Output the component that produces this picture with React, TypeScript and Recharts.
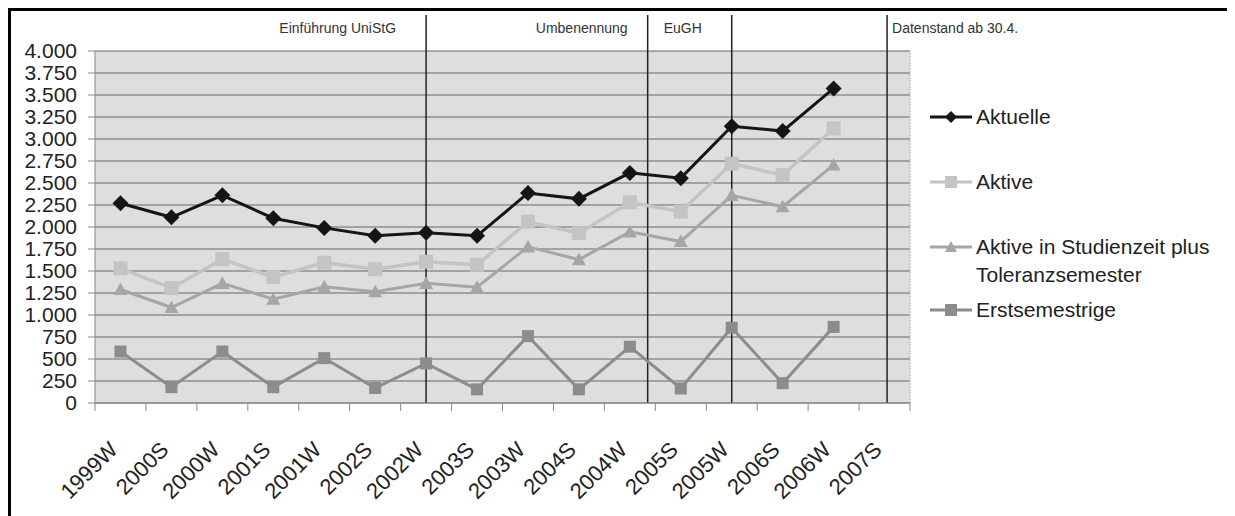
import React from 'react';
import { LineChart, Line, XAxis, YAxis, CartesianGrid, ReferenceLine } from 'recharts';

const semesters = ['1999W', '2000S', '2000W', '2001S', '2001W', '2002S', '2002W', '2003S', '2003W', '2004S', '2004W', '2005S', '2005W', '2006S', '2006W', '2007S'];

const aktuelle = [2270, 2110, 2360, 2100, 1990, 1900, 1935, 1900, 2385, 2320, 2615, 2555, 3145, 3090, 3575, null];
const aktive = [1530, 1305, 1635, 1430, 1595, 1520, 1605, 1570, 2060, 1930, 2280, 2175, 2720, 2590, 3120, null];
const toleranz = [1290, 1085, 1360, 1180, 1320, 1265, 1360, 1315, 1775, 1630, 1945, 1835, 2360, 2230, 2705, null];
const erstsemestrige = [585, 180, 585, 180, 510, 170, 450, 155, 760, 155, 640, 165, 855, 225, 865, null];

const yTicks = [0, 250, 500, 750, 1000, 1250, 1500, 1750, 2000, 2250, 2500, 2750, 3000, 3250, 3500, 3750, 4000];

// where the event lines sit, in category units (0 = left edge of 1999W)
const eventPositions = [6.5, 10.85, 12.5, 15.55];

const FONT = '"Liberation Sans", Arial, sans-serif';

const data = semesters.map((s, i) => ({
  pos: i + 0.5,
  name: s,
  aktuelle: aktuelle[i],
  aktive: aktive[i],
  toleranz: toleranz[i],
  erst: erstsemestrige[i],
}));

const xTicks = semesters.map((_, i) => i).concat(semesters.length);

const fmt = (v: number) => {
  if (v < 1000) return String(v);
  const t = Math.floor(v / 1000);
  const r = String(v % 1000).padStart(3, '0');
  return `${t}.${r}`;
};

type DotProps = { cx?: number; cy?: number; value?: any };

const diamond = (color: string, r: number) => (p: DotProps) => {
  const { cx, cy, value } = p;
  if (cx == null || cy == null || value == null) return <g key={`d${cx}`} />;
  return <path key={`d${cx}`} d={`M${cx},${cy - r}L${cx + r},${cy}L${cx},${cy + r}L${cx - r},${cy}Z`} fill={color} />;
};

const square = (color: string, r: number) => (p: DotProps) => {
  const { cx, cy, value } = p;
  if (cx == null || cy == null || value == null) return <g key={`s${cx}`} />;
  return <rect key={`s${cx}`} x={cx - r} y={cy - r} width={r * 2} height={r * 2} fill={color} />;
};

const triangle = (color: string, r: number) => (p: DotProps) => {
  const { cx, cy, value } = p;
  if (cx == null || cy == null || value == null) return <g key={`t${cx}`} />;
  return <path key={`t${cx}`} d={`M${cx},${cy - r}L${cx + r},${cy + r * 0.8}L${cx - r},${cy + r * 0.8}Z`} fill={color} />;
};

const series = [
  { key: 'aktuelle', name: 'Aktuelle', color: '#151515', width: 3, dot: diamond('#151515', 8), icon: 'diamond' },
  { key: 'aktive', name: 'Aktive', color: '#c4c4c4', width: 3.5, dot: square('#c4c4c4', 7), icon: 'square' },
  { key: 'toleranz', name: 'Aktive in Studienzeit plus Toleranzsemester', color: '#a6a6a6', width: 3, dot: triangle('#a6a6a6', 7), icon: 'triangle' },
  { key: 'erst', name: 'Erstsemestrige', color: '#8c8c8c', width: 3, dot: square('#8c8c8c', 6), icon: 'square' },
];

const XTick = (props: any) => {
  const { x, y, payload } = props;
  const label = semesters[payload.value];
  if (!label) return null;
  return (
    <text
      transform={`translate(${x + 24},${y + 38}) rotate(-45)`}
      textAnchor="end"
      fontSize={22}
      fontFamily={FONT}
      fill="#222"
    >
      {label}
    </text>
  );
};

const eventLine = (labels: { text: string; dx: number; anchor: 'start' | 'end' }[]) => (p: any) => {
  const top = Math.min(p.y1, p.y2);
  const bottom = Math.max(p.y1, p.y2);
  return (
    <g>
      <line x1={p.x1} x2={p.x2} y1={top - 36} y2={bottom} stroke="#222" strokeWidth={1.5} />
      {labels.map((l) => (
        <text key={l.text} x={p.x1 + l.dx} y={top - 18} textAnchor={l.anchor} fontSize={14} fontFamily={FONT} fill="#333">
          {l.text}
        </text>
      ))}
    </g>
  );
};

const LegendIcon: React.FC<{ color: string; icon: string }> = ({ color, icon }) => (
  <svg width={42} height={16} style={{ flex: 'none', marginTop: 6 }}>
    <line x1={0} x2={42} y1={8} y2={8} stroke={color} strokeWidth={3} />
    {icon === 'diamond' && <path d="M21,2L27,8L21,14L15,8Z" fill={color} />}
    {icon === 'square' && <rect x={15} y={2} width={12} height={12} fill={color} />}
    {icon === 'triangle' && <path d="M21,2L27,13L15,13Z" fill={color} />}
  </svg>
);

const legendGaps = [0, 37, 37, 7];

export default function App() {
  return (
    <div style={{ position: 'relative', width: 1227, height: 508, fontFamily: FONT }}>
      <LineChart
        width={1227}
        height={508}
        data={data}
        margin={{ top: 43, right: 325, left: 0, bottom: 0 }}
      >
        <CartesianGrid horizontal vertical={false} fill="#dedede" stroke="#666" strokeWidth={1} />
        <XAxis
          dataKey="pos"
          type="number"
          domain={[0, semesters.length]}
          ticks={xTicks}
          interval={0}
          height={113}
          tickSize={8}
          stroke="#888"
          tick={<XTick />}
        />
        <YAxis
          domain={[0, 4000]}
          ticks={yTicks}
          interval={0}
          width={87}
          tickSize={7}
          tickMargin={11}
          stroke="#888"
          tickFormatter={fmt}
          tick={{ fontSize: 21, fontFamily: FONT, fill: '#222' }}
        />
        <ReferenceLine x={semesters.length} stroke="#b0b0b0" strokeDasharray="2 1" />
        <ReferenceLine
          x={eventPositions[0]}
          shape={eventLine([{ text: 'Einführung UniStG', dx: -30, anchor: 'end' }])}
        />
        <ReferenceLine
          x={eventPositions[1]}
          shape={eventLine([
            { text: 'Umbenennung', dx: -20, anchor: 'end' },
            { text: 'EuGH', dx: 16, anchor: 'start' },
          ])}
        />
        <ReferenceLine x={eventPositions[2]} shape={eventLine([])} />
        <ReferenceLine
          x={eventPositions[3]}
          shape={eventLine([{ text: 'Datenstand ab 30.4.', dx: 5, anchor: 'start' }])}
        />
        {series.map((s) => (
          <Line
            key={s.key}
            dataKey={s.key}
            name={s.name}
            stroke={s.color}
            strokeWidth={s.width}
            dot={s.dot}
            activeDot={false}
            isAnimationActive={false}
          />
        ))}
      </LineChart>
      <div
        style={{
          position: 'absolute',
          left: 922,
          top: 95,
          width: 300,
          fontSize: 21,
          lineHeight: '28px',
          color: '#222',
        }}
      >
        {series.map((s, i) => (
          <div key={s.key} style={{ display: 'flex', alignItems: 'flex-start', marginTop: legendGaps[i] }}>
            <LegendIcon color={s.color} icon={s.icon} />
            <span style={{ marginLeft: 4 }}>
              {s.key === 'toleranz' ? (
                <>
                  Aktive in Studienzeit plus
                  <br />
                  Toleranzsemester
                </>
              ) : (
                s.name
              )}
            </span>
          </div>
        ))}
      </div>
      <div
        style={{
          position: 'absolute',
          left: 0,
          top: 0,
          width: 1227,
          height: 508,
          borderTop: '3px solid #000',
          borderLeft: '3px solid #000',
          boxSizing: 'border-box',
          pointerEvents: 'none',
        }}
      />
    </div>
  );
}
